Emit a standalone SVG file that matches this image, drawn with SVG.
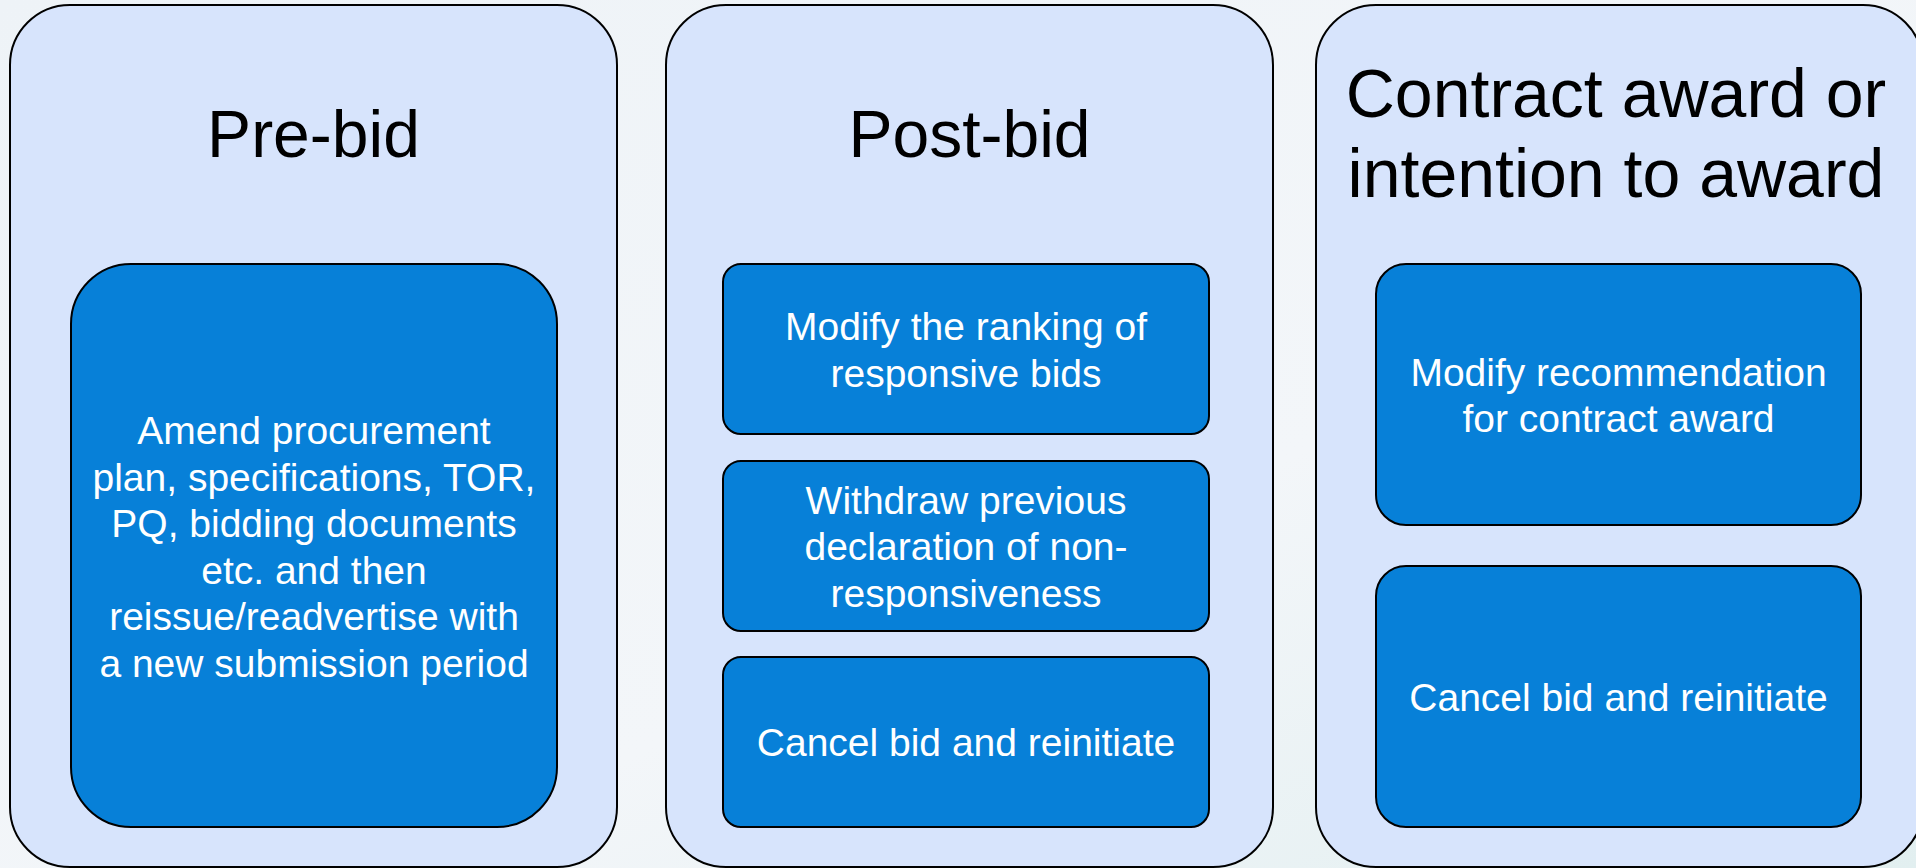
<svg xmlns="http://www.w3.org/2000/svg" width="1916" height="868" viewBox="0 0 1916 868">
<defs>
<linearGradient id="bg" x1="0" y1="0" x2="1" y2="1">
<stop offset="0" stop-color="#eef3f7"/>
<stop offset="0.6" stop-color="#f3f6f9"/>
<stop offset="1" stop-color="#e2eff0"/>
</linearGradient>
</defs>
<style>
.panel{fill:#d7e4fc;stroke:#000;stroke-width:2}
.box{fill:#0780d8;stroke:#000;stroke-width:2}
.title{font-family:"Liberation Sans",Arial,sans-serif;font-size:66px;fill:#000;text-anchor:middle}
.title2{font-size:68px}
.txt{font-family:"Liberation Sans",Arial,sans-serif;font-size:39px;fill:#fff;text-anchor:middle}
</style>
<rect x="0" y="0" width="1916" height="868" fill="url(#bg)"/>
<g id="panel-prebid">
<rect class="panel" x="10" y="5" width="607" height="862" rx="60" ry="60"/>
<text class="title" x="313.5" y="157">Pre-bid</text>
</g>
<g id="box-amend">
<rect class="box" x="71" y="264" width="486" height="563" rx="60" ry="60"/>
<text class="txt" x="314" y="444">Amend procurement</text>
<text class="txt" x="314" y="490.5">plan, specifications, TOR,</text>
<text class="txt" x="314" y="537">PQ, bidding documents</text>
<text class="txt" x="314" y="583.5">etc. and then</text>
<text class="txt" x="314" y="630">reissue/readvertise with</text>
<text class="txt" x="314" y="676.5">a new submission period</text>
</g>
<g id="panel-postbid">
<rect class="panel" x="666" y="5" width="607" height="862" rx="60" ry="60"/>
<text class="title" x="969.5" y="157">Post-bid</text>
</g>
<g id="box-ranking">
<rect class="box" x="723" y="264" width="486" height="170" rx="18" ry="18"/>
<text class="txt" x="966" y="340">Modify the ranking of</text>
<text class="txt" x="966" y="386.5">responsive bids</text>
</g>
<g id="box-withdraw">
<rect class="box" x="723" y="461" width="486" height="170" rx="18" ry="18"/>
<text class="txt" x="966" y="513.5">Withdraw previous</text>
<text class="txt" x="966" y="560">declaration of non-</text>
<text class="txt" x="966" y="606.5">responsiveness</text>
</g>
<g id="box-cancel-post">
<rect class="box" x="723" y="657" width="486" height="170" rx="18" ry="18"/>
<text class="txt" x="966" y="756">Cancel bid and reinitiate</text>
</g>
<g id="panel-award">
<rect class="panel" x="1316" y="5" width="607" height="862" rx="60" ry="60"/>
<text class="title title2" x="1616" y="117">Contract award or</text>
<text class="title title2" x="1616" y="197">intention to award</text>
</g>
<g id="box-recommend">
<rect class="box" x="1376" y="264" width="485" height="261" rx="30" ry="30"/>
<text class="txt" x="1618.5" y="385.5">Modify recommendation</text>
<text class="txt" x="1618.5" y="432">for contract award</text>
</g>
<g id="box-cancel-award">
<rect class="box" x="1376" y="566" width="485" height="261" rx="30" ry="30"/>
<text class="txt" x="1618.5" y="710.5">Cancel bid and reinitiate</text>
</g>
<g id="connectors"></g>
</svg>
